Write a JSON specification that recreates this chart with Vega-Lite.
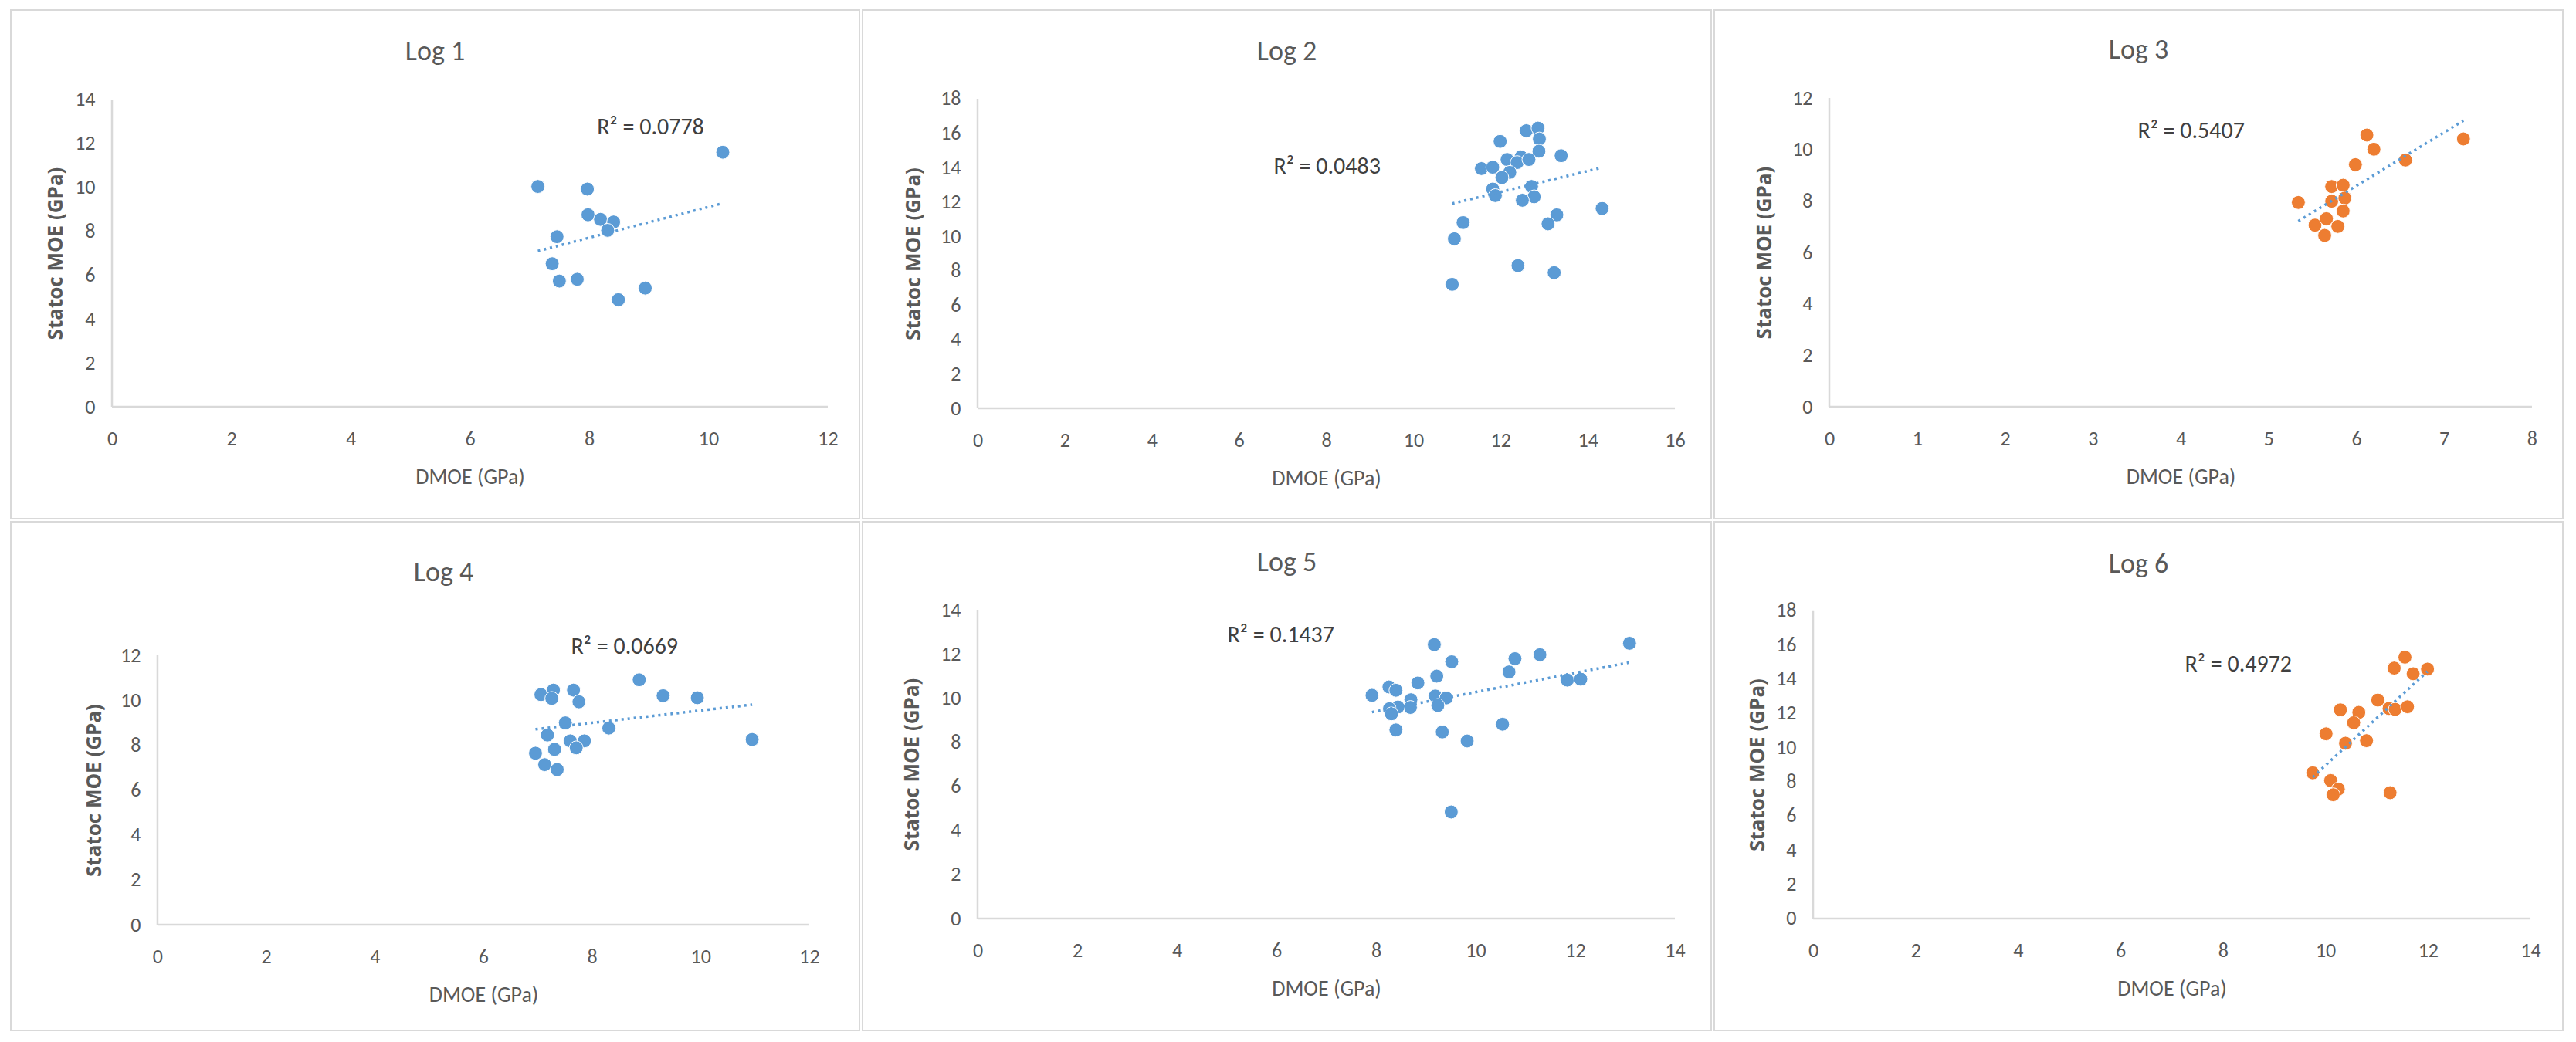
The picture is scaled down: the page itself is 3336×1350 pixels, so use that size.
{
  "$schema": "https://vega.github.io/schema/vega-lite/v6.json",
  "background": "white",
  "padding": {"left": 13, "top": 12, "right": 12, "bottom": 12},
  "datasets": {
    "points": [
      {"log": "Log 1", "dmoe": 7.14, "moe": 10.04}, {"log": "Log 1", "dmoe": 7.97, "moe": 9.92}, {"log": "Log 1", "dmoe": 10.24, "moe": 11.6},
      {"log": "Log 1", "dmoe": 7.98, "moe": 8.75}, {"log": "Log 1", "dmoe": 8.19, "moe": 8.54}, {"log": "Log 1", "dmoe": 8.41, "moe": 8.42},
      {"log": "Log 1", "dmoe": 8.31, "moe": 8.04}, {"log": "Log 1", "dmoe": 7.46, "moe": 7.75}, {"log": "Log 1", "dmoe": 7.38, "moe": 6.52},
      {"log": "Log 1", "dmoe": 7.5, "moe": 5.73}, {"log": "Log 1", "dmoe": 7.8, "moe": 5.81}, {"log": "Log 1", "dmoe": 8.94, "moe": 5.41},
      {"log": "Log 1", "dmoe": 8.49, "moe": 4.88},

      {"log": "Log 2", "dmoe": 11.99, "moe": 15.52}, {"log": "Log 2", "dmoe": 12.59, "moe": 16.14}, {"log": "Log 2", "dmoe": 12.86, "moe": 16.29},
      {"log": "Log 2", "dmoe": 12.89, "moe": 15.66}, {"log": "Log 2", "dmoe": 12.88, "moe": 14.95}, {"log": "Log 2", "dmoe": 13.39, "moe": 14.69},
      {"log": "Log 2", "dmoe": 11.56, "moe": 13.94}, {"log": "Log 2", "dmoe": 11.82, "moe": 14.02}, {"log": "Log 2", "dmoe": 12.15, "moe": 14.47},
      {"log": "Log 2", "dmoe": 12.47, "moe": 14.62}, {"log": "Log 2", "dmoe": 12.38, "moe": 14.29}, {"log": "Log 2", "dmoe": 12.65, "moe": 14.47},
      {"log": "Log 2", "dmoe": 12.21, "moe": 13.72}, {"log": "Log 2", "dmoe": 12.03, "moe": 13.42}, {"log": "Log 2", "dmoe": 11.82, "moe": 12.75},
      {"log": "Log 2", "dmoe": 11.88, "moe": 12.37}, {"log": "Log 2", "dmoe": 12.71, "moe": 12.9}, {"log": "Log 2", "dmoe": 12.77, "moe": 12.3},
      {"log": "Log 2", "dmoe": 12.5, "moe": 12.1}, {"log": "Log 2", "dmoe": 11.14, "moe": 10.8}, {"log": "Log 2", "dmoe": 10.94, "moe": 9.86},
      {"log": "Log 2", "dmoe": 14.33, "moe": 11.62}, {"log": "Log 2", "dmoe": 13.29, "moe": 11.25}, {"log": "Log 2", "dmoe": 13.09, "moe": 10.73},
      {"log": "Log 2", "dmoe": 12.4, "moe": 8.3}, {"log": "Log 2", "dmoe": 13.23, "moe": 7.89}, {"log": "Log 2", "dmoe": 10.89, "moe": 7.21},

      {"log": "Log 3", "dmoe": 6.12, "moe": 10.56}, {"log": "Log 3", "dmoe": 6.2, "moe": 10.01}, {"log": "Log 3", "dmoe": 7.22, "moe": 10.41},
      {"log": "Log 3", "dmoe": 6.56, "moe": 9.59}, {"log": "Log 3", "dmoe": 5.99, "moe": 9.41}, {"log": "Log 3", "dmoe": 5.72, "moe": 8.56},
      {"log": "Log 3", "dmoe": 5.85, "moe": 8.61}, {"log": "Log 3", "dmoe": 5.72, "moe": 7.99}, {"log": "Log 3", "dmoe": 5.87, "moe": 8.11},
      {"log": "Log 3", "dmoe": 5.34, "moe": 7.94}, {"log": "Log 3", "dmoe": 5.85, "moe": 7.61}, {"log": "Log 3", "dmoe": 5.53, "moe": 7.06},
      {"log": "Log 3", "dmoe": 5.79, "moe": 7.01}, {"log": "Log 3", "dmoe": 5.66, "moe": 7.31}, {"log": "Log 3", "dmoe": 5.64, "moe": 6.66},

      {"log": "Log 4", "dmoe": 8.87, "moe": 10.91}, {"log": "Log 4", "dmoe": 9.31, "moe": 10.2}, {"log": "Log 4", "dmoe": 9.94, "moe": 10.11},
      {"log": "Log 4", "dmoe": 10.95, "moe": 8.25}, {"log": "Log 4", "dmoe": 7.06, "moe": 10.25}, {"log": "Log 4", "dmoe": 7.29, "moe": 10.45},
      {"log": "Log 4", "dmoe": 7.26, "moe": 10.08}, {"log": "Log 4", "dmoe": 7.66, "moe": 10.45}, {"log": "Log 4", "dmoe": 7.76, "moe": 9.93},
      {"log": "Log 4", "dmoe": 7.51, "moe": 8.99}, {"log": "Log 4", "dmoe": 8.31, "moe": 8.76}, {"log": "Log 4", "dmoe": 7.18, "moe": 8.45},
      {"log": "Log 4", "dmoe": 7.6, "moe": 8.19}, {"log": "Log 4", "dmoe": 7.86, "moe": 8.19}, {"log": "Log 4", "dmoe": 7.71, "moe": 7.88},
      {"log": "Log 4", "dmoe": 7.31, "moe": 7.81}, {"log": "Log 4", "dmoe": 6.96, "moe": 7.64}, {"log": "Log 4", "dmoe": 7.13, "moe": 7.13},
      {"log": "Log 4", "dmoe": 7.36, "moe": 6.91},

      {"log": "Log 5", "dmoe": 9.17, "moe": 12.42}, {"log": "Log 5", "dmoe": 13.09, "moe": 12.48}, {"log": "Log 5", "dmoe": 9.52, "moe": 11.64},
      {"log": "Log 5", "dmoe": 10.79, "moe": 11.78}, {"log": "Log 5", "dmoe": 11.29, "moe": 11.96}, {"log": "Log 5", "dmoe": 10.67, "moe": 11.18},
      {"log": "Log 5", "dmoe": 9.22, "moe": 10.99}, {"log": "Log 5", "dmoe": 8.84, "moe": 10.68}, {"log": "Log 5", "dmoe": 11.84, "moe": 10.81},
      {"log": "Log 5", "dmoe": 12.11, "moe": 10.85}, {"log": "Log 5", "dmoe": 7.92, "moe": 10.12}, {"log": "Log 5", "dmoe": 8.26, "moe": 10.5},
      {"log": "Log 5", "dmoe": 8.4, "moe": 10.35}, {"log": "Log 5", "dmoe": 8.7, "moe": 9.92}, {"log": "Log 5", "dmoe": 8.69, "moe": 9.57},
      {"log": "Log 5", "dmoe": 8.44, "moe": 9.59}, {"log": "Log 5", "dmoe": 8.27, "moe": 9.51}, {"log": "Log 5", "dmoe": 8.31, "moe": 9.28},
      {"log": "Log 5", "dmoe": 9.19, "moe": 10.09}, {"log": "Log 5", "dmoe": 9.41, "moe": 10.0}, {"log": "Log 5", "dmoe": 9.24, "moe": 9.66},
      {"log": "Log 5", "dmoe": 8.4, "moe": 8.55}, {"log": "Log 5", "dmoe": 9.33, "moe": 8.46}, {"log": "Log 5", "dmoe": 9.83, "moe": 8.05},
      {"log": "Log 5", "dmoe": 10.54, "moe": 8.81}, {"log": "Log 5", "dmoe": 9.51, "moe": 4.83},

      {"log": "Log 6", "dmoe": 11.55, "moe": 15.27}, {"log": "Log 6", "dmoe": 11.34, "moe": 14.63}, {"log": "Log 6", "dmoe": 11.99, "moe": 14.57},
      {"log": "Log 6", "dmoe": 11.71, "moe": 14.3}, {"log": "Log 6", "dmoe": 11.02, "moe": 12.76}, {"log": "Log 6", "dmoe": 11.24, "moe": 12.27},
      {"log": "Log 6", "dmoe": 11.36, "moe": 12.22}, {"log": "Log 6", "dmoe": 11.6, "moe": 12.37}, {"log": "Log 6", "dmoe": 10.29, "moe": 12.19},
      {"log": "Log 6", "dmoe": 10.65, "moe": 12.04}, {"log": "Log 6", "dmoe": 10.55, "moe": 11.44}, {"log": "Log 6", "dmoe": 10.01, "moe": 10.79},
      {"log": "Log 6", "dmoe": 10.39, "moe": 10.24}, {"log": "Log 6", "dmoe": 10.8, "moe": 10.39}, {"log": "Log 6", "dmoe": 9.75, "moe": 8.51},
      {"log": "Log 6", "dmoe": 10.1, "moe": 8.06}, {"log": "Log 6", "dmoe": 10.25, "moe": 7.56}, {"log": "Log 6", "dmoe": 10.15, "moe": 7.23},
      {"log": "Log 6", "dmoe": 11.26, "moe": 7.35}
    ]
  },
  "columns": 3,
  "bounds": "flush",
  "spacing": {"row": 4, "column": 4},
  "concat": [
    {
      "width": 1099, "height": 659,
      "title": {"text": "Log 1", "offset": -73},
      "layer": [
        {"data": {"values": [{}]}, "mark": {"type": "rule", "color": "#D9D9D9", "strokeWidth": 2.5}, "encoding": {"x": {"datum": 0, "type": "quantitative"}, "x2": {"datum": 12}, "y": {"datum": 0, "type": "quantitative"}}},
        {"data": {"values": [{}]}, "mark": {"type": "rule", "color": "#D9D9D9", "strokeWidth": 2.5}, "encoding": {"x": {"datum": 0, "type": "quantitative"}, "y": {"datum": 0, "type": "quantitative"}, "y2": {"datum": 14}}},
        {"data": {"name": "points"}, "transform": [{"filter": "datum.log === 'Log 1'"}],
         "mark": {"type": "circle", "size": 320, "color": "#5B9BD5", "opacity": 1, "stroke": "white", "strokeWidth": 1},
         "encoding": {
           "x": {"field": "dmoe", "type": "quantitative", "scale": {"domain": [-1.696, 12.531], "nice": false, "zero": false},
                 "axis": {"title": "DMOE (GPa)", "format": "d", "values": [0, 2, 4, 6, 8, 10, 12], "offset": -145, "titleX": 594.5}},
           "y": {"field": "moe", "type": "quantitative", "scale": {"domain": [-5.1, 18.08], "nice": false, "zero": false},
                 "axis": {"title": "Statoc MOE (GPa)", "format": "d", "values": [0, 2, 4, 6, 8, 10, 12, 14], "offset": -131, "titleY": 315, "titlePadding": 11}}
         }},
        {"data": {"name": "points"}, "transform": [{"filter": "datum.log === 'Log 1'"}, {"regression": "moe", "on": "dmoe"}],
         "mark": {"type": "line", "color": "#5B9BD5", "strokeWidth": 3.5, "strokeDash": [3, 5]},
         "encoding": {"x": {"field": "dmoe", "type": "quantitative"}, "y": {"field": "moe", "type": "quantitative"}}},
        {"data": {"values": [{}]}, "mark": {"type": "text", "align": "center", "baseline": "middle", "fontSize": 30, "color": "#404040"},
         "encoding": {"x": {"datum": 9.03, "type": "quantitative"}, "y": {"datum": 12.75, "type": "quantitative"}, "text": {"value": "R² = 0.0778"}}}
      ]
    },
    {
      "width": 1099, "height": 659,
      "title": {"text": "Log 2", "offset": -73},
      "layer": [
        {"data": {"values": [{}]}, "mark": {"type": "rule", "color": "#D9D9D9", "strokeWidth": 2.5}, "encoding": {"x": {"datum": 0, "type": "quantitative"}, "x2": {"datum": 16}, "y": {"datum": 0, "type": "quantitative"}}},
        {"data": {"values": [{}]}, "mark": {"type": "rule", "color": "#D9D9D9", "strokeWidth": 2.5}, "encoding": {"x": {"datum": 0, "type": "quantitative"}, "y": {"datum": 0, "type": "quantitative"}, "y2": {"datum": 18}}},
        {"data": {"name": "points"}, "transform": [{"filter": "datum.log === 'Log 2'"}],
         "mark": {"type": "circle", "size": 320, "color": "#5B9BD5", "opacity": 1, "stroke": "white", "strokeWidth": 1},
         "encoding": {
           "x": {"field": "dmoe", "type": "quantitative", "scale": {"domain": [-2.64, 16.832], "nice": false, "zero": false},
                 "axis": {"title": "DMOE (GPa)", "format": "d", "values": [0, 2, 4, 6, 8, 10, 12, 14, 16], "offset": -143, "titleX": 600.5}},
           "y": {"field": "moe", "type": "quantitative", "scale": {"domain": [-6.418, 23.16], "nice": false, "zero": false},
                 "axis": {"title": "Statoc MOE (GPa)", "format": "d", "values": [0, 2, 4, 6, 8, 10, 12, 14, 16, 18], "offset": -149, "titleY": 315.5, "titlePadding": 21}}
         }},
        {"data": {"name": "points"}, "transform": [{"filter": "datum.log === 'Log 2'"}, {"regression": "moe", "on": "dmoe"}],
         "mark": {"type": "line", "color": "#5B9BD5", "strokeWidth": 3.5, "strokeDash": [3, 5]},
         "encoding": {"x": {"field": "dmoe", "type": "quantitative"}, "y": {"field": "moe", "type": "quantitative"}}},
        {"data": {"values": [{}]}, "mark": {"type": "text", "align": "center", "baseline": "middle", "fontSize": 30, "color": "#404040"},
         "encoding": {"x": {"datum": 8.02, "type": "quantitative"}, "y": {"datum": 14.05, "type": "quantitative"}, "text": {"value": "R² = 0.0483"}}}
      ]
    },
    {
      "width": 1099, "height": 659,
      "title": {"text": "Log 3", "offset": -71},
      "layer": [
        {"data": {"values": [{}]}, "mark": {"type": "rule", "color": "#D9D9D9", "strokeWidth": 2.5}, "encoding": {"x": {"datum": 0, "type": "quantitative"}, "x2": {"datum": 8}, "y": {"datum": 0, "type": "quantitative"}}},
        {"data": {"values": [{}]}, "mark": {"type": "rule", "color": "#D9D9D9", "strokeWidth": 2.5}, "encoding": {"x": {"datum": 0, "type": "quantitative"}, "y": {"datum": 0, "type": "quantitative"}, "y2": {"datum": 12}}},
        {"data": {"name": "points"}, "transform": [{"filter": "datum.log === 'Log 3'"}],
         "mark": {"type": "circle", "size": 320, "color": "#ED7D31", "opacity": 1, "stroke": "white", "strokeWidth": 1},
         "encoding": {
           "x": {"field": "dmoe", "type": "quantitative", "scale": {"domain": [-1.31, 8.352], "nice": false, "zero": false},
                 "axis": {"title": "DMOE (GPa)", "format": "d", "values": [0, 1, 2, 3, 4, 5, 6, 7, 8], "offset": -145, "titleX": 604}},
           "y": {"field": "moe", "type": "quantitative", "scale": {"domain": [-4.35, 15.42], "nice": false, "zero": false},
                 "axis": {"title": "Statoc MOE (GPa)", "format": "d", "values": [0, 2, 4, 6, 8, 10, 12], "offset": -149, "titleY": 314, "titlePadding": 22}}
         }},
        {"data": {"name": "points"}, "transform": [{"filter": "datum.log === 'Log 3'"}, {"regression": "moe", "on": "dmoe"}],
         "mark": {"type": "line", "color": "#5B9BD5", "strokeWidth": 3.5, "strokeDash": [3, 5]},
         "encoding": {"x": {"field": "dmoe", "type": "quantitative"}, "y": {"field": "moe", "type": "quantitative"}}},
        {"data": {"values": [{}]}, "mark": {"type": "text", "align": "center", "baseline": "middle", "fontSize": 30, "color": "#404040"},
         "encoding": {"x": {"datum": 4.12, "type": "quantitative"}, "y": {"datum": 10.7, "type": "quantitative"}, "text": {"value": "R² = 0.5407"}}}
      ]
    },
    {
      "width": 1099, "height": 659,
      "title": {"text": "Log 4", "offset": -85, "dx": 11},
      "layer": [
        {"data": {"values": [{}]}, "mark": {"type": "rule", "color": "#D9D9D9", "strokeWidth": 2.5}, "encoding": {"x": {"datum": 0, "type": "quantitative"}, "x2": {"datum": 12}, "y": {"datum": 0, "type": "quantitative"}}},
        {"data": {"values": [{}]}, "mark": {"type": "rule", "color": "#D9D9D9", "strokeWidth": 2.5}, "encoding": {"x": {"datum": 0, "type": "quantitative"}, "y": {"datum": 0, "type": "quantitative"}, "y2": {"datum": 12}}},
        {"data": {"name": "points"}, "transform": [{"filter": "datum.log === 'Log 4'"}],
         "mark": {"type": "circle", "size": 320, "color": "#5B9BD5", "opacity": 1, "stroke": "white", "strokeWidth": 1},
         "encoding": {
           "x": {"field": "dmoe", "type": "quantitative", "scale": {"domain": [-2.701, 12.925], "nice": false, "zero": false},
                 "axis": {"title": "DMOE (GPa)", "format": "d", "values": [0, 2, 4, 6, 8, 10, 12], "offset": -137, "titleX": 612}},
           "y": {"field": "moe", "type": "quantitative", "scale": {"domain": [-4.711, 17.95], "nice": false, "zero": false},
                 "axis": {"title": "Statoc MOE (GPa)", "format": "d", "values": [0, 2, 4, 6, 8, 10, 12], "offset": -190, "titleY": 347.5, "titlePadding": 20}}
         }},
        {"data": {"name": "points"}, "transform": [{"filter": "datum.log === 'Log 4'"}, {"regression": "moe", "on": "dmoe"}],
         "mark": {"type": "line", "color": "#5B9BD5", "strokeWidth": 3.5, "strokeDash": [3, 5]},
         "encoding": {"x": {"field": "dmoe", "type": "quantitative"}, "y": {"field": "moe", "type": "quantitative"}}},
        {"data": {"values": [{}]}, "mark": {"type": "text", "align": "center", "baseline": "middle", "fontSize": 30, "color": "#404040"},
         "encoding": {"x": {"datum": 8.6, "type": "quantitative"}, "y": {"datum": 12.38, "type": "quantitative"}, "text": {"value": "R² = 0.0669"}}}
      ]
    },
    {
      "width": 1099, "height": 659,
      "title": {"text": "Log 5", "offset": -72},
      "layer": [
        {"data": {"values": [{}]}, "mark": {"type": "rule", "color": "#D9D9D9", "strokeWidth": 2.5}, "encoding": {"x": {"datum": 0, "type": "quantitative"}, "x2": {"datum": 14}, "y": {"datum": 0, "type": "quantitative"}}},
        {"data": {"values": [{}]}, "mark": {"type": "rule", "color": "#D9D9D9", "strokeWidth": 2.5}, "encoding": {"x": {"datum": 0, "type": "quantitative"}, "y": {"datum": 0, "type": "quantitative"}, "y2": {"datum": 14}}},
        {"data": {"name": "points"}, "transform": [{"filter": "datum.log === 'Log 5'"}],
         "mark": {"type": "circle", "size": 320, "color": "#5B9BD5", "opacity": 1, "stroke": "white", "strokeWidth": 1},
         "encoding": {
           "x": {"field": "dmoe", "type": "quantitative", "scale": {"domain": [-2.31, 14.729], "nice": false, "zero": false},
                 "axis": {"title": "DMOE (GPa)", "format": "d", "values": [0, 2, 4, 6, 8, 10, 12, 14], "offset": -145, "titleX": 600.5}},
           "y": {"field": "moe", "type": "quantitative", "scale": {"domain": [-5.075, 17.99], "nice": false, "zero": false},
                 "axis": {"title": "Statoc MOE (GPa)", "format": "d", "values": [0, 2, 4, 6, 8, 10, 12, 14], "offset": -149, "titleY": 314, "titlePadding": 23}}
         }},
        {"data": {"name": "points"}, "transform": [{"filter": "datum.log === 'Log 5'"}, {"regression": "moe", "on": "dmoe"}],
         "mark": {"type": "line", "color": "#5B9BD5", "strokeWidth": 3.5, "strokeDash": [3, 5]},
         "encoding": {"x": {"field": "dmoe", "type": "quantitative"}, "y": {"field": "moe", "type": "quantitative"}}},
        {"data": {"values": [{}]}, "mark": {"type": "text", "align": "center", "baseline": "middle", "fontSize": 30, "color": "#404040"},
         "encoding": {"x": {"datum": 6.09, "type": "quantitative"}, "y": {"datum": 12.86, "type": "quantitative"}, "text": {"value": "R² = 0.1437"}}}
      ]
    },
    {
      "width": 1099, "height": 659,
      "title": {"text": "Log 6", "offset": -74},
      "layer": [
        {"data": {"values": [{}]}, "mark": {"type": "rule", "color": "#D9D9D9", "strokeWidth": 2.5}, "encoding": {"x": {"datum": 0, "type": "quantitative"}, "x2": {"datum": 14}, "y": {"datum": 0, "type": "quantitative"}}},
        {"data": {"values": [{}]}, "mark": {"type": "rule", "color": "#D9D9D9", "strokeWidth": 2.5}, "encoding": {"x": {"datum": 0, "type": "quantitative"}, "y": {"datum": 0, "type": "quantitative"}, "y2": {"datum": 18}}},
        {"data": {"name": "points"}, "transform": [{"filter": "datum.log === 'Log 6'"}],
         "mark": {"type": "circle", "size": 320, "color": "#ED7D31", "opacity": 1, "stroke": "white", "strokeWidth": 1},
         "encoding": {
           "x": {"field": "dmoe", "type": "quantitative", "scale": {"domain": [-1.929, 14.632], "nice": false, "zero": false},
                 "axis": {"title": "DMOE (GPa)", "format": "d", "values": [0, 2, 4, 6, 8, 10, 12, 14], "offset": -145, "titleX": 592.5}},
           "y": {"field": "moe", "type": "quantitative", "scale": {"domain": [-6.54, 23.18], "nice": false, "zero": false},
                 "axis": {"title": "Statoc MOE (GPa)", "format": "d", "values": [0, 2, 4, 6, 8, 10, 12, 14, 16, 18], "offset": -128, "titleY": 314.5, "titlePadding": 10}}
         }},
        {"data": {"name": "points"}, "transform": [{"filter": "datum.log === 'Log 6'"}, {"regression": "moe", "on": "dmoe"}],
         "mark": {"type": "line", "color": "#5B9BD5", "strokeWidth": 3.5, "strokeDash": [3, 5]},
         "encoding": {"x": {"field": "dmoe", "type": "quantitative"}, "y": {"field": "moe", "type": "quantitative"}}},
        {"data": {"values": [{}]}, "mark": {"type": "text", "align": "center", "baseline": "middle", "fontSize": 30, "color": "#404040"},
         "encoding": {"x": {"datum": 8.3, "type": "quantitative"}, "y": {"datum": 14.82, "type": "quantitative"}, "text": {"value": "R² = 0.4972"}}}
      ]
    }
  ],
  "config": {
    "font": "Carlito, Liberation Sans Narrow, DejaVu Sans Condensed, sans-serif",
    "view": {"stroke": "#D9D9D9", "strokeWidth": 2},
    "text": {"font": "Carlito, Liberation Sans Narrow, DejaVu Sans Condensed, sans-serif"},
    "axis": {
      "domain": false, "ticks": false, "grid": false,
      "labelFont": "Carlito, Liberation Sans Narrow, DejaVu Sans Condensed, sans-serif",
      "labelFontSize": 26, "labelColor": "#595959", "labelOverlap": false, "labelFlush": false
    },
    "axisX": {"labelPadding": 28, "titleFont": "Carlito, Liberation Sans Narrow, DejaVu Sans Condensed, sans-serif", "titleFontSize": 28, "titleFontWeight": "normal", "titleColor": "#595959", "titlePadding": 23},
    "axisY": {"labelPadding": 22, "titleFont": "Open Sans", "titleFontSize": 26, "titleFontWeight": "bold", "titleColor": "#595959"},
    "title": {"font": "Carlito, Liberation Sans Narrow, DejaVu Sans Condensed, sans-serif", "fontSize": 36, "fontWeight": "normal", "color": "#595959", "anchor": "middle", "frame": "group", "baseline": "alphabetic"}
  }
}
